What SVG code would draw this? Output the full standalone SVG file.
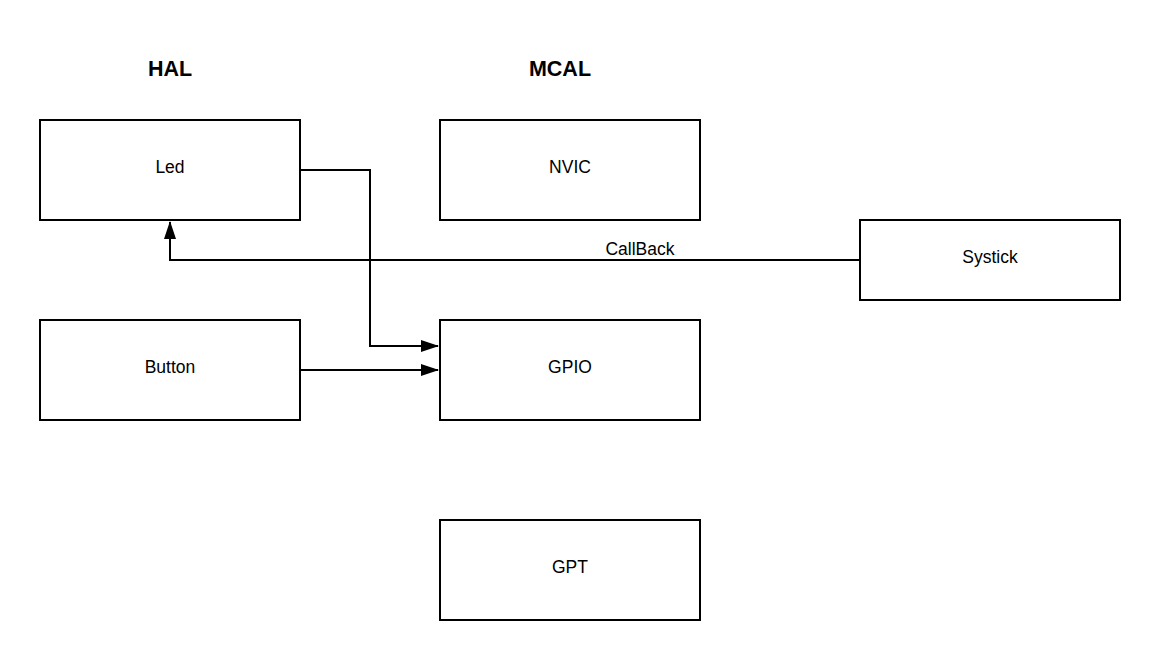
<svg xmlns="http://www.w3.org/2000/svg" width="1160" height="660" viewBox="0 0 1160 660">
<style>
.box{fill:#fff;stroke:#000;stroke-width:2}
.lbl{font-family:"Liberation Sans",Arial,sans-serif;font-size:17.5px;fill:#000;text-anchor:middle}
.title{font-family:"Liberation Sans",Arial,sans-serif;font-size:21.5px;font-weight:bold;fill:#000;text-anchor:middle}
.conn{fill:none;stroke:#000;stroke-width:2}
</style>
<defs>
<marker id="arr" viewBox="0 0 18 12" refX="17" refY="6" markerWidth="18" markerHeight="12" markerUnits="userSpaceOnUse" orient="auto">
<path d="M0,0 L18,6 L0,12 Z" fill="#000"/>
</marker>
</defs>
<rect width="1160" height="660" fill="#fff"/>
<text class="title" x="170" y="76">HAL</text>
<text class="title" x="560" y="76">MCAL</text>
<g id="connectors">
<path class="conn" d="M300,170 H370 V346 H438" marker-end="url(#arr)"/>
<path class="conn" d="M300,370 H438" marker-end="url(#arr)"/>
<path class="conn" d="M860,260 H170 V222" marker-end="url(#arr)"/>
<text class="lbl" x="640" y="255">CallBack</text>
</g>
<g id="led"><rect class="box" x="40" y="120" width="260" height="100"/><text class="lbl" x="170" y="173">Led</text></g>
<g id="nvic"><rect class="box" x="440" y="120" width="260" height="100"/><text class="lbl" x="570" y="173">NVIC</text></g>
<g id="systick"><rect class="box" x="860" y="220" width="260" height="80"/><text class="lbl" x="990" y="263">Systick</text></g>
<g id="button"><rect class="box" x="40" y="320" width="260" height="100"/><text class="lbl" x="170" y="373">Button</text></g>
<g id="gpio"><rect class="box" x="440" y="320" width="260" height="100"/><text class="lbl" x="570" y="373">GPIO</text></g>
<g id="gpt"><rect class="box" x="440" y="520" width="260" height="100"/><text class="lbl" x="570" y="573">GPT</text></g>
</svg>
